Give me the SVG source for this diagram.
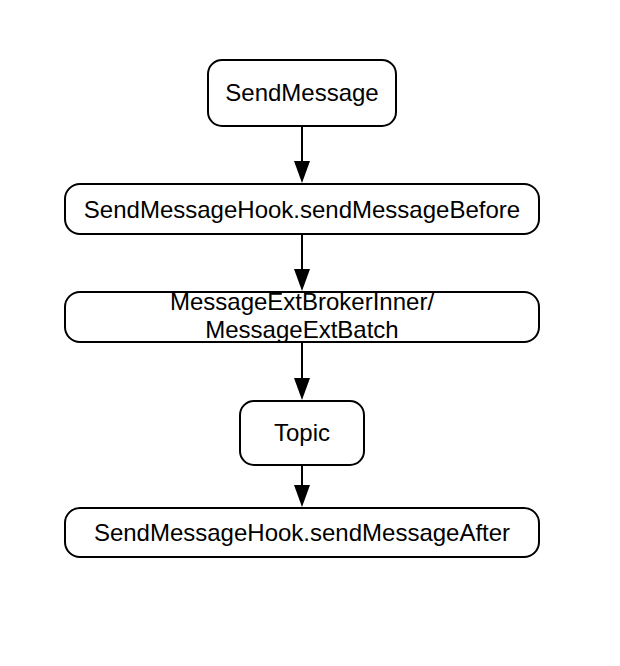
<svg xmlns="http://www.w3.org/2000/svg" width="620" height="666" viewBox="0 0 620 666">
<style>
.box{fill:#fff;stroke:#000;stroke-width:2}
.t{font-family:"Liberation Sans",Arial,sans-serif;font-size:24px;fill:#000;text-anchor:middle}
.c{stroke:#000;stroke-width:2;fill:none}
.ah{fill:#000}
</style>
<rect width="620" height="666" fill="#fff"/>
<g id="connectors">
<line class="c" x1="302" y1="126" x2="302" y2="163"/>
<path class="ah" d="M294,161 L310,161 L302,183 Z"/>
<line class="c" x1="302" y1="234" x2="302" y2="271"/>
<path class="ah" d="M294,269 L310,269 L302,291 Z"/>
<line class="c" x1="302" y1="342" x2="302" y2="380"/>
<path class="ah" d="M294,378 L310,378 L302,400 Z"/>
<line class="c" x1="302" y1="465" x2="302" y2="487"/>
<path class="ah" d="M294,485 L310,485 L302,507 Z"/>
</g>
<g id="sendMessage">
<rect class="box" x="208" y="60" width="188" height="66" rx="14"/>
<text class="t" x="302" y="101">SendMessage</text>
</g>
<g id="before">
<rect class="box" x="65" y="184" width="474" height="50" rx="15"/>
<text class="t" x="302" y="218">SendMessageHook.sendMessageBefore</text>
</g>
<g id="messageExt">
<rect class="box" x="65" y="292" width="474" height="50" rx="15"/>
<text class="t" x="302" y="310">MessageExtBrokerInner/</text>
<text class="t" x="302" y="338">MessageExtBatch</text>
</g>
<g id="topic">
<rect class="box" x="240" y="401" width="124" height="64" rx="14"/>
<text class="t" x="302" y="441">Topic</text>
</g>
<g id="after">
<rect class="box" x="65" y="508" width="474" height="49" rx="15"/>
<text class="t" x="302" y="541">SendMessageHook.sendMessageAfter</text>
</g>
</svg>
